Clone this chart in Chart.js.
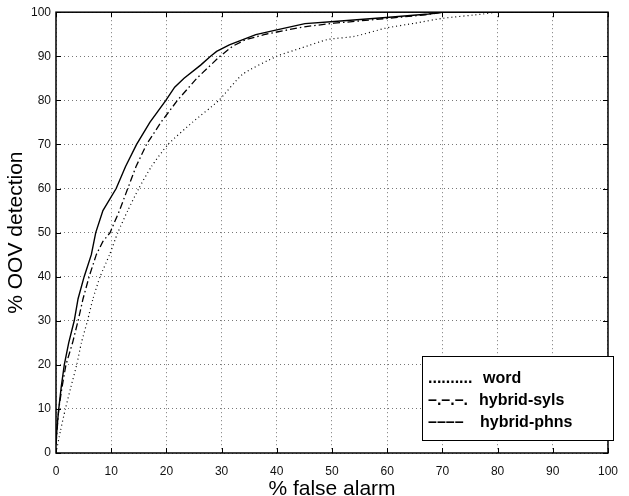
<!DOCTYPE html>
<html>
<head>
<meta charset="utf-8">
<script src="https://cdn.jsdelivr.net/npm/chart.js@4.4.1/dist/chart.umd.min.js"></script>
<style>
  html, body { margin: 0; padding: 0; background: #fff; }
  #wrap { width: 629px; height: 496px; }
</style>
</head>
<body>
<div id="wrap"><canvas id="roc" width="629" height="496"></canvas></div>
<script>
// ROC curves: % false alarm (x) vs % OOV detection (y)
const xTicks = [0, 10, 20, 30, 40, 50, 60, 70, 80, 90, 100];
const yTicks = [0, 10, 20, 30, 40, 50, 60, 70, 80, 90, 100];

const wordFA  = [0, 0.8, 1.7, 2.7, 3.75, 4.6, 5.7, 6.7, 8.0, 9.7, 11.2, 13, 15, 17.3, 20.3, 24.7, 29.5, 33.8, 40, 44.5, 49.2, 54, 59.8, 65, 70, 77.5, 80, 100];
const wordDet = [0, 5, 10, 15, 20, 25, 30, 35, 40, 45, 50, 55, 60, 65, 70, 75, 80, 85.9, 90, 91.9, 93.8, 94.5, 96.4, 97.5, 98.6, 99.6, 100, 100];

const sylsFA  = [0, 0.5, 1.1, 1.8, 3.0, 4.0, 4.9, 6.0, 7.3, 8.5, 9.8, 11.5, 13.0, 14.5, 16.4, 19.0, 22, 25.5, 29.7, 32, 34.4, 38, 42, 45.6, 50.4, 57.5, 66.9, 70, 100];
const sylsDet = [2, 10, 15, 20, 25, 30, 35, 40, 45, 48, 50, 55, 60, 65, 70, 75, 80, 85, 90, 92.3, 93.8, 95, 96, 96.8, 97.5, 98.3, 99.4, 100, 100];

const phnsFA  = [0, 0.2, 0.5, 0.95, 1.5, 2.3, 3.3, 4.0, 5.1, 6.4, 7.2, 8.5, 10.9, 12.6, 14.6, 17, 19.9, 21.5, 23.2, 26.2, 28, 29.1, 31.4, 36.2, 40, 45.1, 50.4, 59.8, 67.5, 70, 100];
const phnsDet = [2, 6, 10, 15, 20, 25, 30, 35, 40, 45, 50, 55, 60, 65, 70, 75, 80, 83, 85, 88, 90, 91.1, 92.6, 94.9, 96, 97.4, 97.9, 98.8, 99.6, 100, 100];

const seriesNames = ['word', 'hybrid-syls', 'hybrid-phns'];
const legendMarks = ['..........', '–.–.–.', '––––'];

const pts = (xs, ys) => xs.map((x, i) => ({ x: x, y: ys[i] }));

// frame, inward tick marks and the text legend box
const framePlugin = {
  id: 'frame',
  afterDraw(chart) {
    const { ctx, chartArea: a, scales } = chart;
    ctx.save();
    ctx.strokeStyle = '#000';
    ctx.lineWidth = 1;
    xTicks.forEach(v => {
      const px = Math.round(scales.x.getPixelForValue(v)) + 0.5;
      ctx.beginPath();
      ctx.moveTo(px, a.bottom); ctx.lineTo(px, a.bottom - 5);
      ctx.moveTo(px, a.top); ctx.lineTo(px, a.top + 5);
      ctx.stroke();
    });
    yTicks.forEach(v => {
      const py = Math.round(scales.y.getPixelForValue(v)) + 0.5;
      ctx.beginPath();
      ctx.moveTo(a.left, py); ctx.lineTo(a.left + 5, py);
      ctx.moveTo(a.right, py); ctx.lineTo(a.right - 5, py);
      ctx.stroke();
    });
    ctx.lineWidth = 1.5;
    ctx.strokeRect(a.left, a.top, a.right - a.left, a.bottom - a.top);

    // legend
    const bx = 422, by = 356, bw = 191, bh = 84;
    ctx.fillStyle = '#fff';
    ctx.fillRect(bx, by, bw, bh);
    ctx.lineWidth = 1;
    ctx.strokeStyle = '#000';
    ctx.strokeRect(bx + 0.5, by + 0.5, bw, bh);
    ctx.fillStyle = '#000';
    ctx.font = 'bold 16px "Liberation Sans", Arial, sans-serif';
    ctx.textBaseline = 'middle';
    const labelX = [483, 479, 480];
    seriesNames.forEach((name, i) => {
      const y = 379 + i * 22;
      ctx.fillText(legendMarks[i], 428, y);
      ctx.fillText(name, labelX[i], y);
    });
    ctx.restore();
  }
};

const ctx = document.getElementById('roc').getContext('2d');
new Chart(ctx, {
  type: 'scatter',
  data: {
    datasets: [
      { label: seriesNames[0], data: pts(wordFA, wordDet), showLine: true, borderColor: '#000', borderWidth: 1.2, borderDash: [1, 3], pointRadius: 0, tension: 0.2 },
      { label: seriesNames[1], data: pts(sylsFA, sylsDet), showLine: true, borderColor: '#000', borderWidth: 1.3, borderDash: [7, 3, 1.5, 3], pointRadius: 0, tension: 0 },
      { label: seriesNames[2], data: pts(phnsFA, phnsDet), showLine: true, borderColor: '#000', borderWidth: 1.4, pointRadius: 0, tension: 0 }
    ]
  },
  options: {
    responsive: false,
    animation: false,
    layout: { padding: { top: 9, right: 9, left: 0, bottom: 0 } },
    plugins: { legend: { display: false }, tooltip: { enabled: false } },
    scales: {
      x: {
        type: 'linear', min: 0, max: 100,
        afterFit(s) { s.height = 43; },
        afterBuildTicks(s) { s.ticks = xTicks.map(v => ({ value: v })); },
        grid: { color: '#777', lineWidth: 1, drawTicks: false },
        border: { display: false, dash: [1, 3] },
        ticks: { padding: 11, color: '#111', maxRotation: 0, font: { family: '"Liberation Sans", Arial, sans-serif', size: 12 } },
        title: { display: true, text: '% false alarm', color: '#000', padding: { top: 0, bottom: -6 }, font: { family: '"Liberation Sans", Arial, sans-serif', size: 21 } }
      },
      y: {
        type: 'linear', min: 0, max: 100,
        afterFit(s) { s.width = 56; },
        afterBuildTicks(s) { s.ticks = yTicks.map(v => ({ value: v })); },
        grid: { color: '#777', lineWidth: 1, drawTicks: false },
        border: { display: false, dash: [1, 3] },
        ticks: { padding: 5, color: '#111', font: { family: '"Liberation Sans", Arial, sans-serif', size: 12 } },
        title: { display: true, text: '% OOV detection', color: '#000', padding: { top: 4, bottom: 0 }, font: { family: '"Liberation Sans", Arial, sans-serif', size: 21 } }
      }
    }
  },
  plugins: [framePlugin]
});
</script>
</body>
</html>
